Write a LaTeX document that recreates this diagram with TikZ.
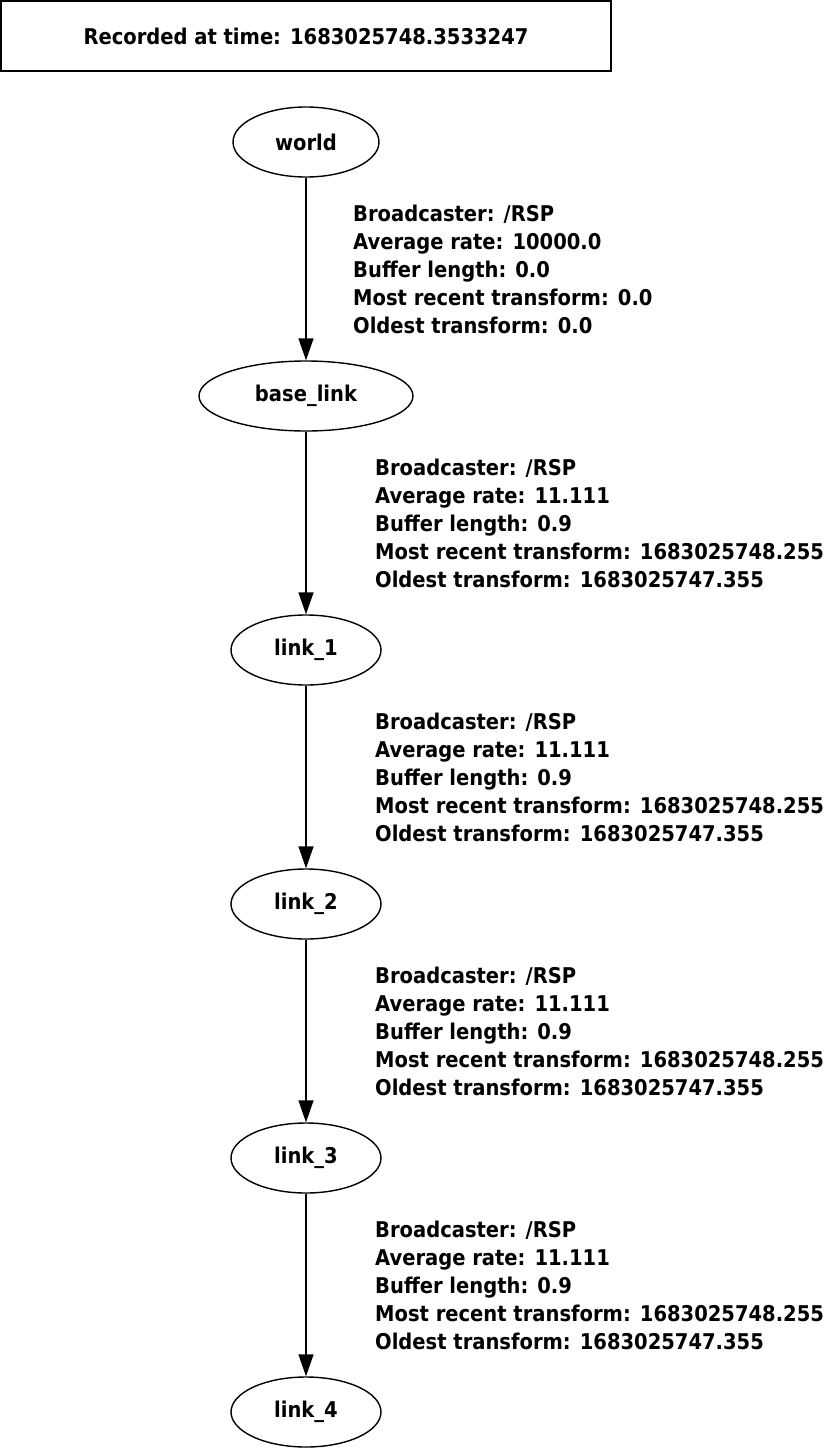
\documentclass[tikz,border=0pt]{standalone}
\usepackage{fontspec}
\setmainfont{DejaVu Sans Condensed}[BoldFont={DejaVu Sans Condensed Bold}]
\usetikzlibrary{shapes.geometric,arrows.meta}
\begin{document}
\begin{tikzpicture}[x=1pt,y=-1pt,
  frame/.style={draw,line width=1.4pt,inner sep=0pt,minimum width=610pt,minimum height=70pt,font=\fontsize{21.7}{25}\selectfont\bfseries},
  tfnode/.style={draw,ellipse,line width=1.4pt,inner sep=0pt,minimum height=70pt,font=\fontsize{21.7}{25}\selectfont\bfseries},
  info/.style={anchor=west,align=left,inner sep=0pt,font=\fontsize{21.7}{28}\selectfont\bfseries},
  tfedge/.style={line width=1.4pt,-{Triangle[length=22pt,width=15pt]}}]
\useasboundingbox (0,0) rectangle (823,1448);
\node[frame] (rec) at (306,36) {Recorded at time: 1683025748.3533247};
\node[tfnode,minimum width=146pt] (world) at (306,142) {world};
\node[tfnode,minimum width=214pt] (base) at (306,396) {base\_link};
\node[tfnode,minimum width=150pt] (l1) at (306,650) {link\_1};
\node[tfnode,minimum width=150pt] (l2) at (306,904) {link\_2};
\node[tfnode,minimum width=150pt] (l3) at (306,1158) {link\_3};
\node[tfnode,minimum width=150pt] (l4) at (306,1412) {link\_4};
\draw[tfedge] (world) -- (base);
\draw[tfedge] (base) -- (l1);
\draw[tfedge] (l1) -- (l2);
\draw[tfedge] (l2) -- (l3);
\draw[tfedge] (l3) -- (l4);
\node[info] (e0) at (353,269) {Broadcaster: /RSP\\Average rate: 10000.0\\Buffer length: 0.0\\Most recent transform: 0.0\\Oldest transform: 0.0};
\node[info] (e1) at (375,523) {Broadcaster: /RSP\\Average rate: 11.111\\Buffer length: 0.9\\Most recent transform: 1683025748.255\\Oldest transform: 1683025747.355};
\node[info] (e2) at (375,777) {Broadcaster: /RSP\\Average rate: 11.111\\Buffer length: 0.9\\Most recent transform: 1683025748.255\\Oldest transform: 1683025747.355};
\node[info] (e3) at (375,1031) {Broadcaster: /RSP\\Average rate: 11.111\\Buffer length: 0.9\\Most recent transform: 1683025748.255\\Oldest transform: 1683025747.355};
\node[info] (e4) at (375,1285) {Broadcaster: /RSP\\Average rate: 11.111\\Buffer length: 0.9\\Most recent transform: 1683025748.255\\Oldest transform: 1683025747.355};
\end{tikzpicture}
\end{document}
